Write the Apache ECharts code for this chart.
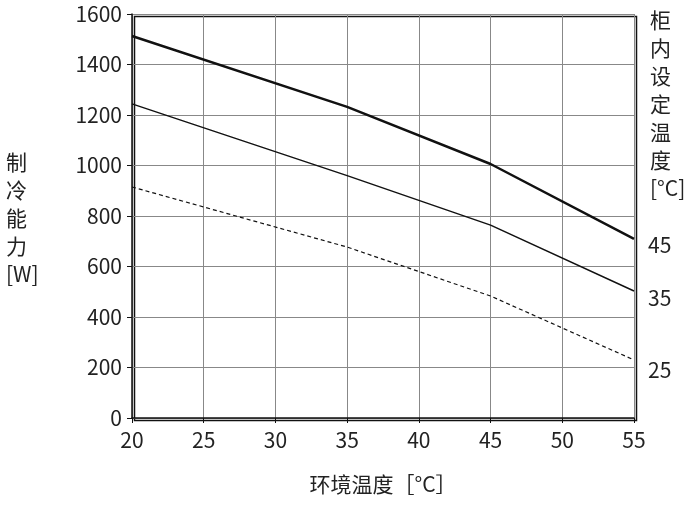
<!DOCTYPE html>
<html lang="zh">
<head>
<meta charset="UTF-8">
<script src="https://cdn.jsdelivr.net/npm/echarts@6/dist/echarts.min.js"></script>
<style>
  html, body { margin: 0; padding: 0; background: #fff; }
  #chart { width: 700px; height: 512px; }
</style>
</head>
<body>
<div id="chart"></div>
<script>
// 环境温度 [°C]
var ambientTemps = [20, 35, 45, 55];
// 制冷能力 [W]，按柜内设定温度
var cap45 = [1513, 1232, 1006, 709];
var cap35 = [1244, 960, 764, 503];
var cap25 = [915, 677, 483, 230];
var setTemps = ['45', '35', '25'];

var font = '"Noto Sans CJK SC", "Noto Sans", sans-serif';

function pairs(vals) {
  return ambientTemps.map(function (t, i) { return [t, vals[i]]; });
}

function line(vals, width, type, label, dy) {
  return {
    type: 'line',
    data: pairs(vals),
    symbol: 'none',
    lineStyle: { color: '#111', width: width, type: type },
    endLabel: {
      show: true, formatter: label, distance: 14, offset: [0, dy],
      fontFamily: font, fontSize: 21, color: '#222'
    }
  };
}

var chart = echarts.init(document.getElementById('chart'));
chart.setOption({
  animation: false,
  grid: { left: 132, right: 66, top: 14, bottom: 94 },
  xAxis: {
    type: 'value', min: 20, max: 55, interval: 5,
    name: '环境温度［°C］', nameLocation: 'middle', nameGap: 56,
    nameTextStyle: { fontFamily: font, fontSize: 21, color: '#222' },
    axisLine: { lineStyle: { color: '#111', width: 1.5 } },
    axisTick: { show: true, length: 5, lineStyle: { color: '#111' } },
    axisLabel: { fontFamily: font, fontSize: 21, color: '#222', margin: 12 },
    splitLine: { lineStyle: { color: '#888', width: 1 } }
  },
  yAxis: {
    type: 'value', min: 0, max: 1600, interval: 200,
    axisLine: { show: true, lineStyle: { color: '#111', width: 1.5 } },
    axisTick: { show: true, length: 5, lineStyle: { color: '#111' } },
    axisLabel: { fontFamily: font, fontSize: 21, color: '#222', margin: 10,
      formatter: function (v) { return String(v); } },
    splitLine: { lineStyle: { color: '#888', width: 1 } }
  },
  graphic: [
    { type: 'rect', left: 132, top: 14, shape: { width: 502, height: 404 },
      style: { fill: 'none', stroke: '#111', lineWidth: 1.5 }, silent: true },
    { type: 'text', left: 6, top: 148,
      style: { text: '制\n冷\n能\n力\n[W]', font: '21px ' + font, fill: '#222', lineHeight: 28, align: 'center' } },
    { type: 'text', left: 650, top: 6,
      style: { text: '柜\n内\n设\n定\n温\n度\n[°C]', font: '21px ' + font, fill: '#222', lineHeight: 28 } }
  ],
  series: [
    line(cap45, 2.5, 'solid', setTemps[0], 6),
    line(cap35, 1.5, 'solid', setTemps[1], 7),
    line(cap25, 1.2, [4, 3], setTemps[2], 10)
  ]
});
</script>
</body>
</html>
